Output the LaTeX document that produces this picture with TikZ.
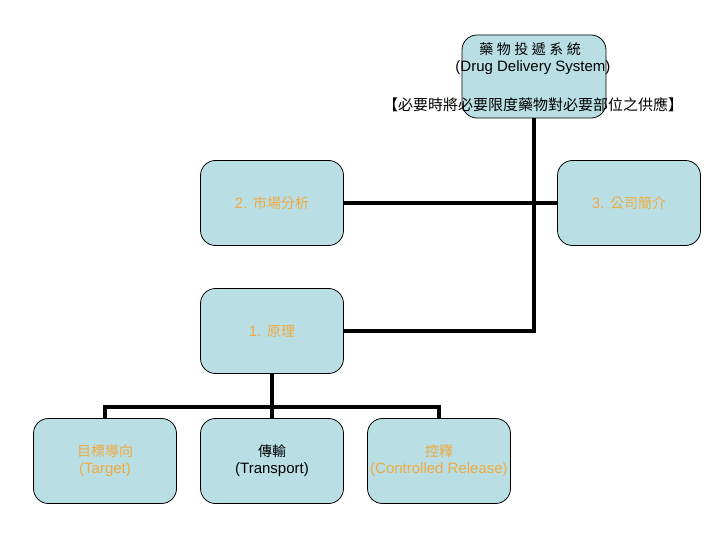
\documentclass[tikz,border=0pt]{standalone}
\usepackage{fontspec}
\setmainfont{Liberation Sans}
\newfontfamily\cjk{Noto Sans CJK TC}
\newfontfamily\cjktitle{Noto Sans CJK TC}[LetterSpace=25]
\newcommand\zh[1]{{\cjk\fontsize{14}{17}\selectfont #1}}
\definecolor{boxfill}{RGB}{185,223,228}
\definecolor{labelorange}{RGB}{240,170,65}
\tikzset{
  card/.style={draw, line width=0.8pt, fill=boxfill, rounded corners=15pt,
    minimum width=143pt, minimum height=85pt, inner sep=0pt, align=center,
    font=\fontsize{15}{17}\selectfont},
  plain/.style={inner sep=0pt, font=\fontsize{15}{17}\selectfont},
  link/.style={line width=3.6pt},
}
\begin{document}
\begin{tikzpicture}[x=1pt,y=-1pt]
    \useasboundingbox (0,0) rectangle (720,540);
    % top box and its texts
    \node[card, minimum width=144pt, minimum height=83pt] (sys) at (534,76.5) {};
    \node[plain] (sysname) at (530,49) {\cjktitle\fontsize{14}{17}\selectfont 藥物投遞系統};
    \node[plain] (sysen) at (533,68) {(Drug Delivery System)};
    \node[plain] (sysnote) at (533,105) {\cjk 【必要時將必要限度藥物對必要部位之供應】};
    % main topics
    \node[card, text=labelorange] (market) at (272,203) {2. \zh{市場分析}};
    \node[card, text=labelorange] (company) at (629,203) {3. \zh{公司簡介}};
    \node[card, text=labelorange] (theory) at (272,331) {1. \zh{原理}};
    % sub topics
    \node[card, text=labelorange] (target) at (105,461) {\zh{目標導向}\\(Target)};
    \node[card] (transport) at (272,461) {\zh{傳輸}\\(Transport)};
    \node[card, text=labelorange] (release) at (439,461) {\zh{控釋}\\(Controlled Release)};
    % connectors
    \draw[link] (sys.south) |- (theory.east);
    \draw[link] (market.east) -- (company.west);
    \coordinate (bus) at (272,407);
    \draw[link] (theory.south) -- (transport.north);
    \draw[link] (target.north) |- (bus) -| (release.north);
\end{tikzpicture}
\end{document}
